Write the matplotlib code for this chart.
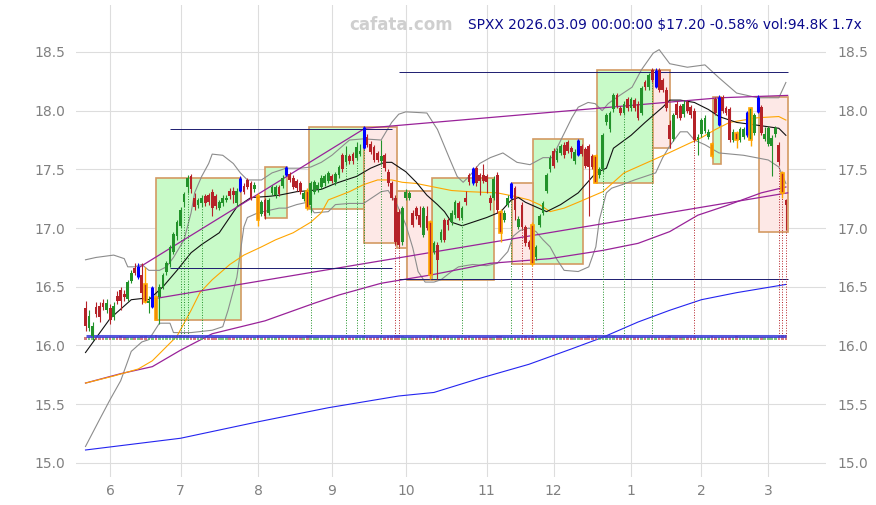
import numpy as np
import pandas as pd
import matplotlib
matplotlib.use('Agg')
import matplotlib.pyplot as plt
from matplotlib.patches import Rectangle

# trading days May 21 2025 .. Mar 9 2026
holidays = ['2025-05-26', '2025-06-19', '2025-07-04', '2025-09-01', '2025-11-27',
            '2025-12-25', '2026-01-01', '2026-01-19', '2026-02-16']
days = pd.bdate_range('2025-05-21', '2026-03-09', freq='C', holidays=holidays)

opens = [16.32,16.15,16.08,16.33,16.34,16.36,16.30,16.32,16.24,16.42,
         16.47,16.44,16.40,16.55,16.66,16.58,16.60,16.52,16.36,16.33,
         16.41,16.41,16.50,16.63,16.69,16.80,16.93,17.02,17.22,17.35,
         17.44,17.26,17.20,17.21,17.27,17.28,17.31,17.27,17.17,17.21,
         17.24,17.32,17.32,17.21,17.32,17.36,17.41,17.38,17.33,17.27,
         17.12,17.24,17.13,17.30,17.28,17.35,17.36,17.45,17.46,17.43,
         17.40,17.38,17.25,17.32,17.20,17.31,17.33,17.35,17.38,17.40,
         17.44,17.39,17.45,17.62,17.56,17.61,17.63,17.60,17.63,17.68,
         17.78,17.72,17.69,17.64,17.57,17.62,17.48,17.38,17.26,17.14,
         16.88,17.26,17.26,17.13,17.17,17.11,16.94,17.10,17.05,16.80,
         16.86,16.90,17.07,17.07,17.05,17.11,17.21,17.09,17.26,17.45,
         17.38,17.51,17.45,17.45,17.44,17.26,17.26,17.45,17.14,17.07,
         17.20,17.26,17.34,17.01,17.20,17.01,16.88,17.03,16.75,17.03,
         17.13,17.32,17.50,17.66,17.58,17.64,17.71,17.73,17.68,17.57,
         17.62,17.70,17.67,17.70,17.61,17.61,17.45,17.50,17.90,17.84,
         18.01,18.13,18.02,17.98,18.10,18.02,18.09,18.06,17.98,18.24,
         18.20,18.35,18.20,18.35,18.26,18.18,17.88,17.76,18.06,18.04,
         17.97,18.07,18.03,18.00,17.75,17.80,17.83,17.78,17.72,18.10,
         17.88,18.12,18.02,18.01,17.75,17.81,17.75,17.78,17.79,17.75,
         17.81,17.99,18.03,17.76,17.72,17.70,17.80,17.71,17.47,17.24]

closes = [16.17,16.25,16.17,16.27,16.24,16.33,16.36,16.22,16.34,16.38,
          16.38,16.41,16.54,16.62,16.62,16.68,16.45,16.37,16.38,16.50,
          16.22,16.50,16.60,16.70,16.84,16.95,17.05,17.15,17.29,17.43,
          17.33,17.18,17.24,17.26,17.21,17.22,17.17,17.19,17.22,17.26,
          17.26,17.27,17.28,17.32,17.43,17.31,17.35,17.26,17.37,17.07,
          17.22,17.10,17.24,17.35,17.35,17.29,17.43,17.52,17.41,17.35,
          17.34,17.31,17.30,17.17,17.38,17.39,17.37,17.43,17.44,17.47,
          17.40,17.46,17.52,17.50,17.62,17.57,17.57,17.69,17.66,17.86,
          17.71,17.65,17.58,17.58,17.61,17.51,17.38,17.26,16.88,16.86,
          17.17,17.31,17.30,17.03,17.10,17.03,17.17,17.00,16.60,16.87,
          16.73,16.97,16.90,17.03,17.13,17.22,17.09,17.17,17.22,17.39,
          17.51,17.38,17.40,17.40,17.39,17.21,17.42,17.15,16.96,17.13,
          17.26,17.38,17.15,17.08,17.01,16.87,16.84,16.69,16.84,17.10,
          17.21,17.45,17.60,17.53,17.66,17.70,17.62,17.66,17.65,17.65,
          17.75,17.63,17.53,17.52,17.52,17.38,17.50,17.79,17.96,17.98,
          18.13,18.04,17.98,18.06,18.02,18.10,18.02,17.94,18.19,18.20,
          18.30,18.26,18.35,18.18,18.18,18.02,17.76,17.96,17.96,17.94,
          18.06,18.00,17.96,17.75,17.78,17.92,17.94,17.82,17.61,17.98,
          18.12,18.00,17.98,17.75,17.82,17.75,17.84,17.84,17.99,18.02,
          17.96,18.12,17.81,17.80,17.85,17.77,17.85,17.56,17.30,17.20]

highs = [16.38,16.30,16.20,16.37,16.37,16.40,16.40,16.35,16.37,16.46,
         16.50,16.47,16.56,16.64,16.70,16.70,16.70,16.67,16.42,16.51,
         16.42,16.52,16.62,16.72,16.86,16.97,17.07,17.18,17.31,17.45,
         17.46,17.30,17.26,17.28,17.29,17.30,17.33,17.29,17.24,17.28,
         17.28,17.34,17.35,17.34,17.44,17.38,17.43,17.40,17.39,17.30,
         17.24,17.26,17.26,17.37,17.37,17.37,17.45,17.53,17.48,17.45,
         17.42,17.40,17.32,17.34,17.40,17.41,17.39,17.45,17.46,17.49,
         17.46,17.48,17.54,17.64,17.70,17.63,17.65,17.73,17.72,17.87,
         17.80,17.74,17.71,17.66,17.75,17.64,17.50,17.40,17.28,17.16,
         17.19,17.33,17.32,17.15,17.19,17.19,17.19,17.19,17.07,16.89,
         16.88,16.99,17.09,17.09,17.15,17.24,17.23,17.19,17.32,17.47,
         17.52,17.53,17.47,17.55,17.46,17.28,17.44,17.48,17.16,17.15,
         17.28,17.39,17.36,17.10,17.22,17.03,16.90,17.05,16.86,17.12,
         17.23,17.47,17.62,17.68,17.68,17.72,17.73,17.75,17.70,17.67,
         17.76,17.72,17.69,17.72,17.63,17.63,17.52,17.81,17.98,18.00,
         18.15,18.15,18.04,18.08,18.12,18.12,18.11,18.08,18.21,18.26,
         18.32,18.36,18.36,18.36,18.28,18.20,17.92,17.98,18.08,18.06,
         18.09,18.09,18.05,18.02,17.80,17.94,17.96,17.84,17.73,18.12,
         18.13,18.13,18.04,18.03,17.84,17.83,17.86,17.86,18.00,18.03,
         17.98,18.13,18.05,17.86,17.87,17.79,17.87,17.73,17.49,17.25]

lows = [16.12,16.12,16.05,16.24,16.20,16.30,16.28,16.18,16.22,16.35,
        16.30,16.38,16.38,16.53,16.60,16.57,16.35,16.36,16.28,16.32,
        16.22,16.18,16.48,16.60,16.67,16.78,16.90,17.00,17.18,17.30,
        17.30,17.15,17.17,17.18,17.19,17.20,17.10,17.16,17.15,17.19,
        17.22,17.25,17.21,17.19,17.31,17.29,17.33,17.24,17.31,17.02,
        17.10,17.08,17.11,17.28,17.26,17.27,17.34,17.44,17.39,17.33,
        17.32,17.29,17.23,17.15,17.13,17.29,17.31,17.33,17.36,17.38,
        17.38,17.37,17.43,17.48,17.54,17.55,17.55,17.58,17.61,17.67,
        17.69,17.63,17.56,17.56,17.55,17.49,17.36,17.24,16.86,16.84,
        16.86,17.24,17.24,17.01,17.08,17.01,16.92,16.98,16.57,16.78,
        16.57,16.88,16.88,16.98,17.03,17.09,17.07,17.07,17.20,17.37,
        17.37,17.36,17.28,17.38,17.30,17.15,17.24,17.13,16.88,17.05,
        17.18,17.25,17.07,16.99,16.99,16.85,16.82,16.68,16.73,17.01,
        17.11,17.30,17.48,17.51,17.56,17.62,17.60,17.64,17.60,17.55,
        17.61,17.61,17.51,17.10,17.50,17.38,17.43,17.48,17.88,17.82,
        17.99,18.02,17.96,17.96,18.00,18.00,18.00,17.92,17.96,18.18,
        18.18,18.24,18.19,18.16,18.16,18.00,17.68,17.74,17.94,17.92,
        17.95,17.98,17.94,17.73,17.62,17.78,17.81,17.76,17.60,17.96,
        17.87,17.98,17.96,17.73,17.73,17.68,17.73,17.76,17.78,17.70,
        17.79,17.98,17.79,17.74,17.70,17.44,17.78,17.54,17.26,16.98]

volumes = [62,58,70,55,52,60,48,57,50,53,66,54,59,61,52,56,72,80,55,63,
           85,64,70,75,68,72,78,82,77,69,60,58,54,50,56,52,61,57,49,51,
           53,48,55,60,58,52,50,62,49,75,58,63,55,50,52,48,57,60,55,53,
           50,52,47,66,70,58,55,53,57,52,49,56,60,63,58,54,52,61,55,64,
           60,58,62,57,64,59,66,72,90,85,76,60,55,58,54,57,62,59,88,70,
           74,62,58,55,53,57,52,61,54,66,63,58,55,52,50,57,62,65,78,60,
           56,60,63,55,62,66,60,80,68,62,58,60,55,57,52,54,50,53,51,56,
           58,54,57,66,55,73,60,75,66,62,64,58,53,55,51,56,52,57,60,55,
           58,54,62,57,55,60,66,62,55,52,50,53,51,58,60,55,57,53,68,59,
           62,56,54,60,55,64,52,50,57,60,54,58,62,56,52,55,53,70,85,95]

blue_days = [15, 19, 44, 57, 79, 110, 121, 140, 162, 180, 188, 191]
orange_days = [17, 20, 49, 63, 98, 118, 127, 145, 178, 185, 189, 198]
green_marks = [27, 28, 29, 33, 64, 74, 77, 79, 84, 107, 121, 147, 153, 161]
red_marks = [88, 89, 124, 127, 173, 197, 198, 199]

# signal boxes: start day, end day, low, high
gbox_x0 = [20.0, 51.0, 63.5, 98.5, 127.2, 145.4, 178.3]
gbox_x1 = [44.2, 57.3, 79.2, 116.1, 141.4, 161.3, 180.6]
gbox_lo = [16.22, 17.09, 17.16, 16.56, 16.69, 17.38, 17.55]
gbox_hi = [17.43, 17.52, 17.86, 17.43, 17.76, 18.35, 18.12]
pbox_x0 = [79.2, 88.5, 91.3, 121.2, 161.3, 191.4]
pbox_x1 = [88.5, 91.3, 98.5, 127.2, 166.1, 199.6]
pbox_lo = [16.87, 16.83, 16.56, 16.69, 17.68, 16.97]
pbox_hi = [17.86, 17.32, 17.32, 17.38, 18.35, 18.12]

# support / resistance levels
lvl_x0 = [24, 24, 89, 89]
lvl_x1 = [87, 87, 199.5, 199.5]
lvl_y = [17.84, 16.66, 18.33, 16.57]

# trend lines
tl_up_x = [15.5, 79.4, 180.3, 199.5]
tl_up_y = [16.67, 17.85, 18.11, 18.13]
tl_lo_x = [19.8, 199.5]
tl_lo_y = [16.40, 17.30]

# moving averages / bands (day, value)
ma20_x = [0, 7, 13, 16, 18, 22, 26, 30, 33, 38, 43, 47, 52, 55, 60, 64, 67, 71, 77, 81, 85, 87,
          91, 94, 97, 100, 102, 104, 107, 110, 114, 118, 121, 123, 125, 128, 131, 135, 140, 145,
          148, 150, 155, 159, 164, 166, 169, 173, 177, 180, 185, 190, 197, 199]
ma20_y = [15.94, 16.23, 16.39, 16.40, 16.39, 16.50, 16.64, 16.79, 16.86, 16.96, 17.18, 17.26,
          17.27, 17.28, 17.31, 17.32, 17.33, 17.38, 17.44, 17.51, 17.56, 17.56, 17.48, 17.39,
          17.28, 17.20, 17.14, 17.05, 17.02, 17.05, 17.09, 17.14, 17.24, 17.26, 17.22, 17.18,
          17.14, 17.20, 17.30, 17.47, 17.51, 17.68, 17.79, 17.90, 18.03, 18.09, 18.09, 18.07,
          18.01, 17.95, 17.90, 17.88, 17.85, 17.79]
ma50_x = [0, 8, 15, 19, 22, 26, 30, 32.5, 36, 41, 45, 50, 54, 59, 64, 67, 69, 75, 79, 83, 87,
          90, 94, 99, 104, 109, 117, 122, 126, 129, 132, 136, 140, 147, 153, 159, 165, 175,
          179, 183, 191, 197, 199]
ma50_y = [15.68, 15.74, 15.80, 15.87, 15.96, 16.08, 16.30, 16.45, 16.56, 16.69, 16.77, 16.84,
          16.90, 16.96, 17.05, 17.13, 17.24, 17.31, 17.37, 17.41, 17.41, 17.39, 17.38, 17.35,
          17.32, 17.31, 17.30, 17.27, 17.24, 17.20, 17.14, 17.17, 17.22, 17.31, 17.47, 17.55,
          17.63, 17.77, 17.84, 17.90, 17.94, 17.95, 17.92]
ma100_x = [0, 10, 19, 27, 36, 51, 65, 72, 84, 98, 115, 132, 147, 157, 166, 174, 182, 192, 199]
ma100_y = [15.68, 15.76, 15.82, 15.96, 16.10, 16.21, 16.36, 16.43, 16.53, 16.60, 16.70, 16.74,
           16.81, 16.87, 16.97, 17.11, 17.19, 17.30, 17.35]
ma200_x = [0, 27, 49, 69, 89, 99, 112, 126, 138, 147, 157, 166, 175, 185, 199]
ma200_y = [15.11, 15.21, 15.35, 15.47, 15.57, 15.60, 15.72, 15.84, 15.97, 16.07, 16.20, 16.30,
           16.39, 16.45, 16.52]
bb_up_x = [0, 3, 8, 11, 12, 14, 16, 18, 21, 23, 25, 28, 30, 31, 33, 35, 36, 39, 42, 44, 46, 50,
           53, 57, 61, 64, 67, 70, 75, 79, 84, 87, 89, 91, 97, 100, 103.6, 105.6, 107.3, 109.3,
           112, 115, 118.6, 122.6, 126.3, 130, 132.6, 135.4, 138.2, 140, 142.8, 144.8, 146.8,
           148.5, 151.3, 155.3, 158, 161.3, 163, 166, 171, 176, 180, 185, 191, 197, 199]
bb_up_y = [16.73, 16.75, 16.77, 16.74, 16.67, 16.67, 16.69, 16.64, 16.64, 16.67, 16.75, 16.90,
           17.13, 17.30, 17.44, 17.55, 17.63, 17.62, 17.55, 17.47, 17.41, 17.41, 17.47, 17.51,
           17.51, 17.52, 17.56, 17.62, 17.75, 17.76, 17.75, 17.90, 17.97, 17.99, 17.98, 17.84,
           17.58, 17.44, 17.39, 17.45, 17.55, 17.60, 17.64, 17.56, 17.54, 17.60, 17.60, 17.77,
           17.94, 18.03, 18.07, 18.06, 18.00, 18.06, 18.12, 18.20, 18.35, 18.49, 18.52, 18.40,
           18.37, 18.39, 18.28, 18.15, 18.11, 18.11, 18.24]
bb_lo_x = [0, 4, 7, 10, 13, 16, 18, 21, 24, 25, 30, 36, 39, 40.5, 43, 45, 46, 49, 52, 55, 57,
           60, 63, 65, 69, 71, 75, 79, 84, 86, 88.5, 91, 93, 94.5, 96.5, 99, 101, 104, 106, 110,
           114, 117, 120, 121.5, 123.5, 126, 128, 130, 132, 134, 136, 140, 143, 145, 146, 148,
           149.5, 152.5, 156, 159, 162, 164, 166, 169, 171, 173, 176, 180, 187, 194, 197, 199]
bb_lo_y = [15.14, 15.37, 15.54, 15.70, 15.95, 16.03, 16.05, 16.19, 16.19, 16.11, 16.11, 16.13,
           16.16, 16.30, 16.58, 17.01, 17.09, 17.13, 17.15, 17.17, 17.17, 17.20, 17.22, 17.13,
           17.14, 17.20, 17.21, 17.21, 17.31, 17.32, 17.20, 17.03, 16.83, 16.63, 16.54, 16.54,
           16.56, 16.63, 16.67, 16.69, 16.68, 16.70, 16.80, 16.93, 16.98, 17.00, 16.97, 16.90,
           16.84, 16.73, 16.64, 16.63, 16.67, 16.84, 17.07, 17.30, 17.34, 17.37, 17.41, 17.44,
           17.47, 17.60, 17.70, 17.82, 17.82, 17.75, 17.71, 17.64, 17.62, 17.58, 17.52, 17.38]

o = np.array(opens)
c = np.array(closes)
h = np.array(highs)
l = np.array(lows)
v = np.array(volumes)
x = np.arange(len(c))

fig = plt.figure(figsize=(8.76, 5.05), dpi=100)
ax = fig.add_axes([76/876, 28/505, 750/876, 472/505])

green = '#22922a'
red = '#b52228'
gray = '#808080'

# boxes
for x0, x1, lo, hi in zip(gbox_x0, gbox_x1, gbox_lo, gbox_hi):
    ax.add_patch(Rectangle((x0, lo), x1 - x0, hi - lo, facecolor='#c8fac8',
                           edgecolor='#d39a62', lw=1.2, zorder=1))
for x0, x1, lo, hi in zip(pbox_x0, pbox_x1, pbox_lo, pbox_hi):
    ax.add_patch(Rectangle((x0, lo), x1 - x0, hi - lo, facecolor='#fde8e6',
                           edgecolor='#d39a62', lw=1.2, zorder=1))

# indicators
ax.plot(bb_up_x, bb_up_y, color='#8c8c8c', lw=0.8, zorder=2)
ax.plot(bb_lo_x, bb_lo_y, color='#8c8c8c', lw=0.8, zorder=2)
ax.plot(ma200_x, ma200_y, color='#2424f0', lw=0.8, zorder=2)
ax.plot(ma100_x, ma100_y, color='#992299', lw=0.9, zorder=2)
ax.plot(ma50_x, ma50_y, color='#ffa500', lw=0.8, zorder=2)
ax.plot(ma20_x, ma20_y, color='#111111', lw=0.8, zorder=2)
ax.plot(tl_up_x, tl_up_y, color='#992299', lw=0.9, zorder=2)
ax.plot(tl_lo_x, tl_lo_y, color='#992299', lw=0.9, zorder=2)
for x0, x1, yy in zip(lvl_x0, lvl_x1, lvl_y):
    ax.hlines(yy, x0, x1, color='#1c1c70', lw=0.7, zorder=2)

# signal markers down to the volume strip
for d in green_marks:
    ax.vlines(d, 16.08, l[d], color=green, lw=0.7, linestyles=':', zorder=2)
for d in red_marks:
    ax.vlines(d, 16.08, l[d], color=red, lw=0.7, linestyles=':', zorder=2)

# volume strip
vcol = np.where(c >= o, '#5fb55f', '#c85a5f')
ax.bar(x, v * 0.0005, bottom=16.045, width=0.75, color=vcol, alpha=0.8, zorder=2)
ax.hlines(16.077, 0, len(c) - 1, color='#3a3ad8', lw=2.2, alpha=0.85, zorder=3)

# candles
for i in x:
    lo_b, hi_b = min(o[i], c[i]), max(o[i], c[i])
    col = green if c[i] >= o[i] else red
    if i in blue_days:
        ax.vlines(i, l[i], h[i], color='blue', lw=0.8, zorder=4)
        ax.vlines(i, lo_b, hi_b, color='blue', lw=2.2, zorder=4)
    elif i in orange_days:
        ax.vlines(i, l[i], h[i], color='orange', lw=1.0, zorder=4)
        ax.bar(i, hi_b - lo_b, bottom=lo_b, width=0.78, facecolor=col,
               edgecolor='orange', lw=1.2, zorder=4)
    else:
        ax.vlines(i, l[i], h[i], color=col, lw=0.8, zorder=4)
        ax.bar(i, hi_b - lo_b, bottom=lo_b, width=0.78, color=col, lw=0, zorder=4)

# axes styling
month_idx = [i for i in range(1, len(days)) if days[i].month != days[i - 1].month]
ax.set_xticks(month_idx)
ax.set_xticklabels([str(days[i].month) for i in month_idx])
ax.set_yticks(np.arange(15.0, 18.51, 0.5))
ax.set_yticklabels(['%.1f' % t for t in np.arange(15.0, 18.51, 0.5)])
ax.set_xlim(-2.7, 210.4)
ax.set_ylim(14.88, 18.9)
ax.grid(True, color='#dddddd', lw=0.8, zorder=0)
ax.set_axisbelow(True)
for s in ax.spines.values():
    s.set_visible(False)
ax.tick_params(axis='both', length=0, labelsize=10, labelcolor=gray)
ax.tick_params(axis='y', labelright=True, pad=8)
ax.tick_params(axis='x', pad=5)

fig.text(401/876, 1 - 25/505, 'cafata.com', color='#cfcfcf', fontsize=12,
         fontweight='bold', ha='center', va='center')
fig.text(862/876, 1 - 25/505, 'SPXX 2026.03.09 00:00:00 $17.20 -0.58% vol:94.8K 1.7x',
         color='#0a0a8c', fontsize=9.9, ha='right', va='center')

fig.savefig('out.png', dpi=100)
